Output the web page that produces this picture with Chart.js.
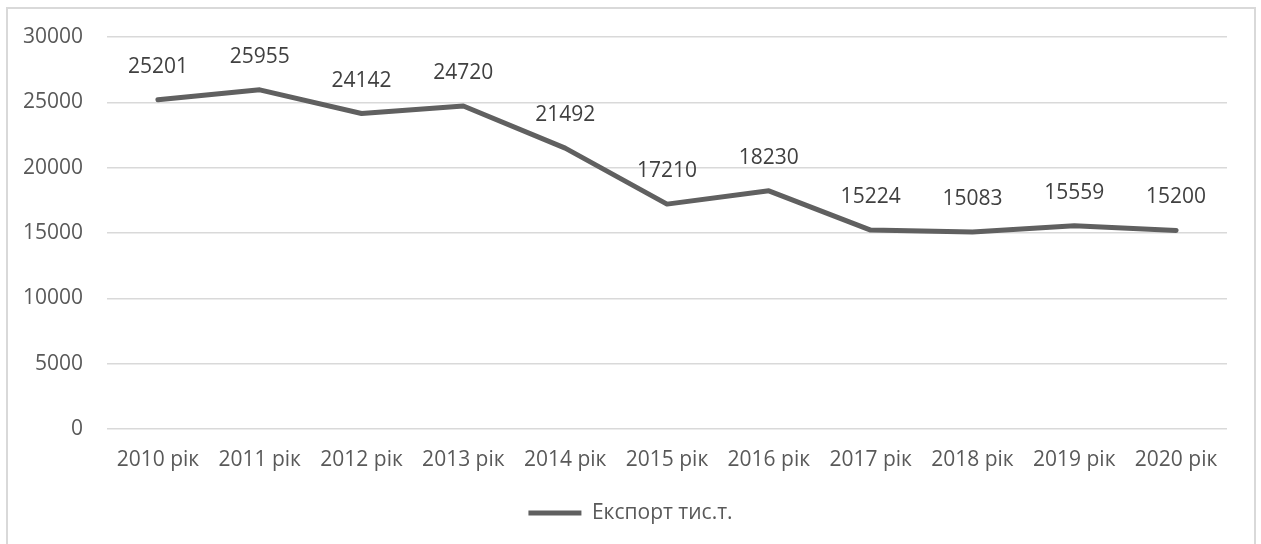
<!DOCTYPE html>
<html>
<head>
<meta charset="utf-8">
<script src="https://cdn.jsdelivr.net/npm/chart.js@4"></script>
<style>
html,body{margin:0;padding:0;background:#fff;overflow:hidden;}
#wrap{position:relative;width:1261px;height:544px;}
#frame{position:absolute;left:6px;top:7px;width:1250px;height:600px;box-sizing:border-box;border:2px solid #d9d9d9;pointer-events:none;}
</style>
</head>
<body>
<div id="wrap">
<canvas id="c" width="1261" height="544"></canvas>
<div id="frame"></div>
</div>
<script>
const categories = ["2010 рік","2011 рік","2012 рік","2013 рік","2014 рік","2015 рік","2016 рік","2017 рік","2018 рік","2019 рік","2020 рік"];
const seriesName = "Експорт тис.т.";
const exportValues = [25201,25955,24142,24720,21492,17210,18230,15224,15083,15559,15200];
const yTicks = [0,5000,10000,15000,20000,25000,30000];

const FONT = "'Open Sans', sans-serif";
const labelPlugin = {
  id: 'valueLabels',
  afterDatasetsDraw(chart) {
    const ctx = chart.ctx;
    const meta = chart.getDatasetMeta(0);
    ctx.save();
    ctx.font = "21px " + FONT;
    ctx.fillStyle = '#404040';
    ctx.textAlign = 'center';
    ctx.textBaseline = 'middle';
    meta.data.forEach((pt, i) => {
      ctx.fillText(String(chart.data.datasets[0].data[i]), pt.x, pt.y - 33);
    });
    ctx.restore();
  }
};

new Chart(document.getElementById('c'), {
  type: 'line',
  data: {
    labels: categories,
    datasets: [{
      label: seriesName,
      data: exportValues,
      borderColor: '#606060',
      backgroundColor: '#606060',
      borderWidth: 5,
      borderCapStyle: 'round',
      borderJoinStyle: 'round',
      pointRadius: 0,
      tension: 0,
      yAxisID: 'y'
    }]
  },
  options: {
    responsive: false,
    animation: false,
    layout: { padding: { top: 37, left: 0, right: 0, bottom: 10.5 } },
    plugins: {
      legend: {
        position: 'bottom',
        labels: {
          usePointStyle: true,
          pointStyle: 'line',
          pointStyleWidth: 53,
          padding: 10,
          color: '#595959',
          font: { family: FONT, size: 21 }
        }
      },
      tooltip: { enabled: false }
    },
    scales: {
      x: {
        offset: true,
        grid: { display: false },
        border: { display: false },
        ticks: { color: '#595959', font: { family: FONT, size: 21 }, padding: 10, maxRotation: 0, autoSkip: false },
        afterFit(s) { s.height = 63.5; }
      },
      y: {
        min: 0, max: 30000,
        afterBuildTicks(s) { s.ticks = yTicks.map(v => ({ value: v })); },
        grid: { color: '#d9d9d9', lineWidth: 1.5, drawTicks: false },
        border: { display: false },
        ticks: { color: '#595959', font: { family: FONT, size: 21 }, padding: 24, callback: v => String(v) },
        afterFit(s) { s.width = 107; }
      },
      yRight: {
        position: 'right',
        min: 0, max: 30000,
        grid: { display: false, drawTicks: false },
        border: { display: false },
        ticks: { display: false },
        afterFit(s) { s.width = 34; }
      }
    }
  },
  plugins: [labelPlugin]
});
</script>
</body>
</html>
